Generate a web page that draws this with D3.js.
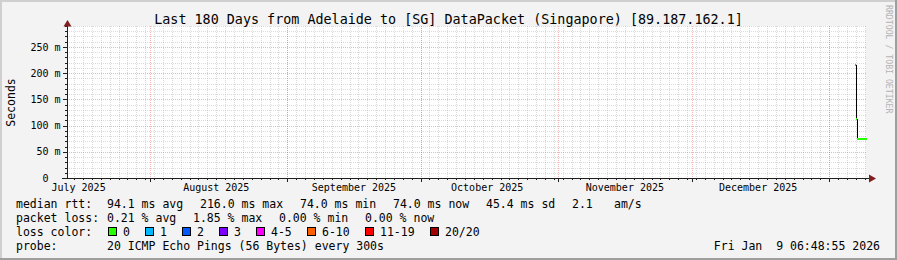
<!DOCTYPE html>
<html>
<head>
<meta charset="utf-8">
<script src="https://cdn.jsdelivr.net/npm/d3@7"></script>
<style>
body { margin: 0; background: #fff; }
svg { display: block; }
text { font-family: "DejaVu Sans Mono", monospace; fill: #000; }
</style>
</head>
<body>
<script>
var width = 897,
    height = 260,
    plot = {left: 67, right: 866, top: 26, bottom: 178};

// ---- data ----
var titleText = "Last 180 Days from Adelaide to [SG] DataPacket (Singapore) [89.187.162.1]";

var startTime = new Date(Date.UTC(2025, 6, 13, 6, 48, 55)),
    endTime = new Date(Date.UTC(2026, 0, 9, 6, 48, 55));

var monthLabels = ["July 2025", "August 2025", "September 2025", "October 2025", "November 2025", "December 2025"];

var yTickValues = [0, 0.05, 0.10, 0.15, 0.20, 0.25],
    yTickLabels = ["0  ", "50 m", "100 m", "150 m", "200 m", "250 m"];

// median rtt (seconds) and loss band per sample
var sampleTimes = [
    "2026-01-06T19:00:00Z", "2026-01-07T00:00:00Z", "2026-01-07T05:00:00Z",
    "2026-01-07T11:00:00Z", "2026-01-07T17:00:00Z", "2026-01-07T23:00:00Z",
    "2026-01-08T05:00:00Z", "2026-01-08T11:00:00Z", "2026-01-08T17:00:00Z",
    "2026-01-08T23:00:00Z", "2026-01-09T05:00:00Z"
];
var medianRtt = [0.2160, 0.1135, 0.0742, 0.0740, 0.0741, 0.0740, 0.0742, 0.0740, 0.0741, 0.0740, 0.0740];
var lossBand = [1, 0, 0, 0, 0, 0, 0, 0, 0, 0, 0];

var lossLabels = ["0", "1", "2", "3", "4-5", "6-10", "11-19", "20/20"],
    lossColors = ["#26ff00", "#00b8ff", "#0059ff", "#7e00ff", "#ff00ff", "#ff5e00", "#ff0000", "#a10000"];

var rttStats = ["94.1 ms avg", "216.0 ms max", "74.0 ms min", "74.0 ms now", "45.4 ms sd", "2.1", "am/s"],
    lossStats = ["0.21 % avg", "1.85 % max", "0.00 % min", "0.00 % now"],
    probeText = "20 ICMP Echo Pings (56 Bytes) every 300s",
    stampText = "Fri Jan  9 06:48:55 2026";

// ---- scales ----
var x = d3.scaleUtc()
    .domain([startTime, endTime])
    .range([plot.left - 0.5, plot.right]);

var y = d3.scaleLinear()
    .domain([0, 0.29])
    .range([plot.bottom, plot.top]);

var svg = d3.select("body")
    .append("svg")
    .attr("width", width)
    .attr("height", height);

// background + 3d border
svg.append("rect").attr("width", width).attr("height", height).attr("fill", "#f3f3f3");
svg.append("rect").attr("width", width).attr("height", 2).attr("fill", "#cfcfcf");
svg.append("rect").attr("width", 2).attr("height", height).attr("fill", "#cfcfcf");
svg.append("rect").attr("y", height - 2).attr("width", width).attr("height", 2).attr("fill", "#9e9e9e");
svg.append("rect").attr("x", width - 2).attr("width", 2).attr("height", height).attr("fill", "#9e9e9e");

svg.append("rect")
    .attr("x", plot.left)
    .attr("y", plot.top)
    .attr("width", plot.right - plot.left)
    .attr("height", plot.bottom - plot.top)
    .attr("fill", "#fff");

// ---- grid ----
var px = function(v) { return Math.round(v) + 0.5; };
var minorColor = "rgba(143,143,143,0.32)",
    majorColor = "rgba(222,80,80,0.42)";

var yMinor = d3.range(1, 30).filter(function(i) { return i % 5 != 0; }).map(function(i) { return i / 100; }),
    yMajor = [0.05, 0.10, 0.15, 0.20, 0.25];

var refDay = Date.UTC(2025, 6, 15);
var xMinor = d3.utcDay.range(startTime, endTime).filter(function(d) {
        return Math.round((d - refDay) / 864e5) % 2 == 0;
    }),
    xMajor = d3.utcMonth.range(startTime, endTime);

var grid = svg.append("g").attr("shape-rendering", "crispEdges");

grid.selectAll(".hminor")
    .data(yMinor)
    .enter()
        .append("line")
        .attr("x1", plot.left).attr("x2", plot.right)
        .attr("y1", function(d) { return px(y(d)); })
        .attr("y2", function(d) { return px(y(d)); })
        .attr("stroke", minorColor)
        .attr("stroke-dasharray", "1,1");

grid.selectAll(".vminor")
    .data(xMinor)
    .enter()
        .append("line")
        .attr("y1", plot.top).attr("y2", plot.bottom)
        .attr("x1", function(d) { return px(x(d)); })
        .attr("x2", function(d) { return px(x(d)); })
        .attr("stroke", minorColor)
        .attr("stroke-dasharray", "1,1");

grid.selectAll(".hmajor")
    .data(yMajor)
    .enter()
        .append("line")
        .attr("x1", plot.left).attr("x2", plot.right)
        .attr("y1", function(d) { return px(y(d)); })
        .attr("y2", function(d) { return px(y(d)); })
        .attr("stroke", majorColor)
        .attr("stroke-dasharray", "1,1");

grid.selectAll(".vmajor")
    .data(xMajor)
    .enter()
        .append("line")
        .attr("y1", plot.top).attr("y2", plot.bottom)
        .attr("x1", function(d) { return px(x(d)); })
        .attr("x2", function(d) { return px(x(d)); })
        .attr("stroke", majorColor)
        .attr("stroke-dasharray", "1,1");

// ---- median line ----
var samples = sampleTimes.map(function(t, i) {
    return {t: new Date(t), v: medianRtt[i], loss: lossBand[i]};
});
samples.forEach(function(d, i) {
    d.next = i < samples.length - 1 ? samples[i + 1].t : endTime;
});

var data = svg.append("g").attr("shape-rendering", "crispEdges");

data.selectAll(".step")
    .data(samples.slice(1))
    .enter()
        .append("line")
        .attr("x1", function(d) { return px(x(d.t)); })
        .attr("x2", function(d) { return px(x(d.t)); })
        .attr("y1", function(d, i) { return Math.round(y(samples[i].v)); })
        .attr("y2", function(d) { return Math.round(y(d.v)); })
        .attr("stroke", "#000");

data.selectAll(".seg")
    .data(samples)
    .enter()
        .append("rect")
        .attr("x", function(d) { return Math.round(x(d.t)); })
        .attr("width", function(d) { return Math.max(1, Math.round(x(d.next)) - Math.round(x(d.t))); })
        .attr("y", function(d) { return Math.round(y(d.v)) - 1; })
        .attr("height", 2)
        .attr("fill", function(d) { return lossColors[d.loss]; });

// ---- axes ----
var axisColor = "#1f1f1f",
    arrowColor = "#7f1f1f";
var axes = svg.append("g").attr("shape-rendering", "crispEdges");

axes.append("line")
    .attr("x1", plot.left + 0.5).attr("x2", plot.left + 0.5)
    .attr("y1", plot.bottom + 1).attr("y2", plot.top - 1)
    .attr("stroke", axisColor);
axes.append("line")
    .attr("x1", plot.left - 5).attr("x2", plot.right + 4)
    .attr("y1", plot.bottom + 0.5).attr("y2", plot.bottom + 0.5)
    .attr("stroke", axisColor);

axes.selectAll(".ytick")
    .data(yMinor.concat(yMajor))
    .enter()
        .append("line")
        .attr("x1", function(d) { return plot.left - (yMajor.indexOf(d) >= 0 ? 4 : 2); })
        .attr("x2", plot.left)
        .attr("y1", function(d) { return px(y(d)); })
        .attr("y2", function(d) { return px(y(d)); })
        .attr("stroke", axisColor);

axes.selectAll(".xtick")
    .data(xMinor.concat(xMajor))
    .enter()
        .append("line")
        .attr("y1", plot.bottom + 1)
        .attr("y2", function(d) { return plot.bottom + (xMajor.indexOf(d) >= 0 ? 4 : 2); })
        .attr("x1", function(d) { return px(x(d)); })
        .attr("x2", function(d) { return px(x(d)); })
        .attr("stroke", axisColor);

svg.append("path")
    .attr("d", "M63.5,26.5 L71.5,26.5 L67.5,20 Z")
    .attr("fill", arrowColor);
svg.append("path")
    .attr("d", "M869,174.5 L869,182.5 L876,178.5 Z")
    .attr("fill", arrowColor);

// y labels
svg.selectAll(".ylabel")
    .data(yTickValues)
    .enter()
        .append("text")
        .attr("xml:space", "preserve")
        .style("white-space", "pre")
        .attr("x", 60.5)
        .attr("y", function(d) { return y(d) + 3.7; })
        .attr("text-anchor", "end")
        .attr("font-size", "10px")
        .text(function(d, i) { return yTickLabels[i]; });

// x labels, centered mid-month
var labelDates = d3.utcMonth.range(d3.utcMonth.floor(startTime), endTime).map(function(d) {
    return d3.utcDay.offset(d, 15);
});
svg.selectAll(".xlabel")
    .data(monthLabels)
    .enter()
        .append("text")
        .attr("x", function(d, i) { return x(labelDates[i]); })
        .attr("y", 190.5)
        .attr("text-anchor", "middle")
        .attr("font-size", "10px")
        .text(function(d) { return d; });

svg.append("text")
    .attr("transform", "translate(15,102.5) rotate(-90)")
    .attr("text-anchor", "middle")
    .attr("font-size", "11.5px")
    .text("Seconds");

svg.append("text")
    .attr("x", 448.5)
    .attr("y", 23.5)
    .attr("text-anchor", "middle")
    .attr("font-size", "13.4px")
    .text(titleText);

svg.append("text")
    .attr("transform", "translate(885.5,5) rotate(90)")
    .attr("font-size", "8.2px")
    .style("fill", "#b4b4b4")
    .text("RRDTOOL / TOBI OETIKER");

// ---- legend ----
var legend = svg.append("g").attr("font-size", "11.5px");

function legendRow(items, xs, baseline) {
    items.forEach(function(t, i) {
        legend.append("text")
            .attr("xml:space", "preserve")
            .style("white-space", "pre")
            .attr("x", xs[i])
            .attr("y", baseline)
            .text(t);
    });
}

legendRow(["median rtt:"].concat(rttStats), [16, 107, 200, 300, 393, 486, 572, 614], 208);
legendRow(["packet loss:"].concat(lossStats), [16, 107, 193, 279, 365], 222);
legendRow(["loss color:"], [16], 236);
legendRow(["probe:", probeText], [16, 107], 250);

legend.append("text")
    .attr("xml:space", "preserve")
    .style("white-space", "pre")
    .attr("x", 880)
    .attr("y", 250)
    .attr("text-anchor", "end")
    .text(stampText);

var charW = 7, boxX = [], cx = 108;
lossLabels.forEach(function(l) {
    boxX.push(cx);
    cx += 15 + l.length * charW + 15;
});

var swatch = legend.selectAll(".swatch")
    .data(lossLabels)
    .enter()
        .append("g");
swatch.append("rect")
    .attr("x", function(d, i) { return boxX[i] + 0.5; })
    .attr("y", 227.5)
    .attr("width", 8)
    .attr("height", 8)
    .attr("fill", function(d, i) { return lossColors[i]; })
    .attr("stroke", "#000")
    .attr("shape-rendering", "crispEdges");
swatch.append("text")
    .attr("x", function(d, i) { return boxX[i] + 15; })
    .attr("y", 236)
    .text(function(d) { return d; });
</script>
</body>
</html>
